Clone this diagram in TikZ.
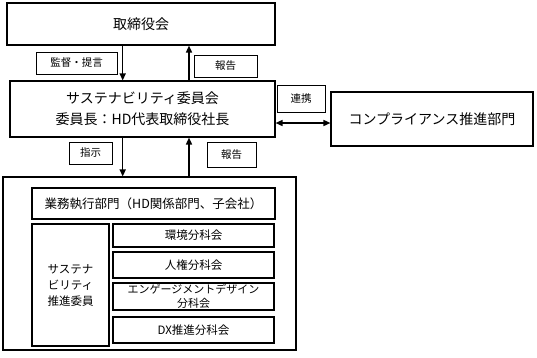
\documentclass[tikz,border=0pt]{standalone}
\usepackage{fontspec}
\setmainfont{Noto Sans CJK JP}
\usetikzlibrary{arrows.meta, positioning}

\begin{document}
\begin{tikzpicture}[x=1pt, y=-1pt,
  box/.style={draw, line width=1.1pt, inner sep=0pt, align=center},
  tag/.style={draw, line width=0.8pt, inner sep=0pt, minimum height=22pt,
              font=\fontsize{10.5}{12}\selectfont},
  arr/.style={-{Triangle[length=7pt, width=6pt]}, line width=1.5pt}]
  \useasboundingbox (0,0) rectangle (537,357);

  % Upper level
  \node[box, minimum width=268pt, minimum height=42pt,
        font=\fontsize{14}{16}\selectfont] (board) at (141,24) {取締役会};
  \node[box, minimum width=265pt, minimum height=56pt,
        font=\fontsize{14}{21}\selectfont] (cmt) at (142.5,109)
    {サステナビリティ委員会\\委員長：HD代表取締役社長};
  \node[box, minimum width=202pt, minimum height=54pt,
        font=\fontsize{14}{16}\selectfont] (cmp) at (432,119)
    {コンプライアンス推進部門};

  % Execution side
  \node[box, minimum width=293pt, minimum height=173pt] (exec) at (149.5,263.5) {};
  \node[box, minimum width=243pt, minimum height=31pt,
        font=\fontsize{12.5}{14}\selectfont] (dept) at (153.5,203.5)
    {業務執行部門（HD関係部門、子会社）};
  \node[box, minimum width=77pt, minimum height=122pt,
        font=\fontsize{11.5}{16}\selectfont] (promo) at (70.5,285)
    {サステナ\\ビリティ\\推進委員};
  \node[box, minimum width=161pt, minimum height=23pt,
        font=\fontsize{11.5}{13}\selectfont] (env) at (193.5,235.5) {環境分科会};
  \node[box, minimum width=161pt, minimum height=26pt,
        font=\fontsize{11.5}{13}\selectfont] (hr) at (193.5,265) {人権分科会};
  \node[box, minimum width=161pt, minimum height=27pt,
        font=\fontsize{11}{14}\selectfont] (eng) at (193.5,296.5)
    {エンゲージメントデザイン\\分科会};
  \node[box, minimum width=161pt, minimum height=26pt,
        font=\fontsize{11.5}{13}\selectfont] (dx) at (193.5,330) {DX推進分科会};

  % Labels
  \node[tag, minimum width=81pt] (advise) at (76.5,63) {監督・提言};
  \node[tag, minimum width=63pt] (rep1) at (225.5,66) {報告};
  \node[tag, minimum width=43pt] (order) at (90.5,153) {指示};
  \node[tag, minimum width=49pt, minimum height=25pt] (rep2) at (231.5,154.5) {報告};
  \node[tag, minimum width=48pt, minimum height=27pt] (link) at (301,98.5) {連携};

  % Arrows
  \coordinate (xdown) at (122.7,0);
  \coordinate (xup) at (189,0);
  \coordinate (ylink) at (0,123);
  \draw[arr] (board.south -| xdown) -- (cmt.north -| xdown);
  \draw[arr] (cmt.north -| xup) -- (board.south -| xup);
  \draw[arr] (cmt.south -| xdown) -- (exec.north -| xdown);
  \draw[arr] (exec.north -| xup) -- (cmt.south -| xup);
  \draw[arr, {Triangle[length=7pt, width=6pt]}-{Triangle[length=7pt, width=6pt]}]
    (cmt.east |- ylink) -- (cmp.west |- ylink);
\end{tikzpicture}
\end{document}
